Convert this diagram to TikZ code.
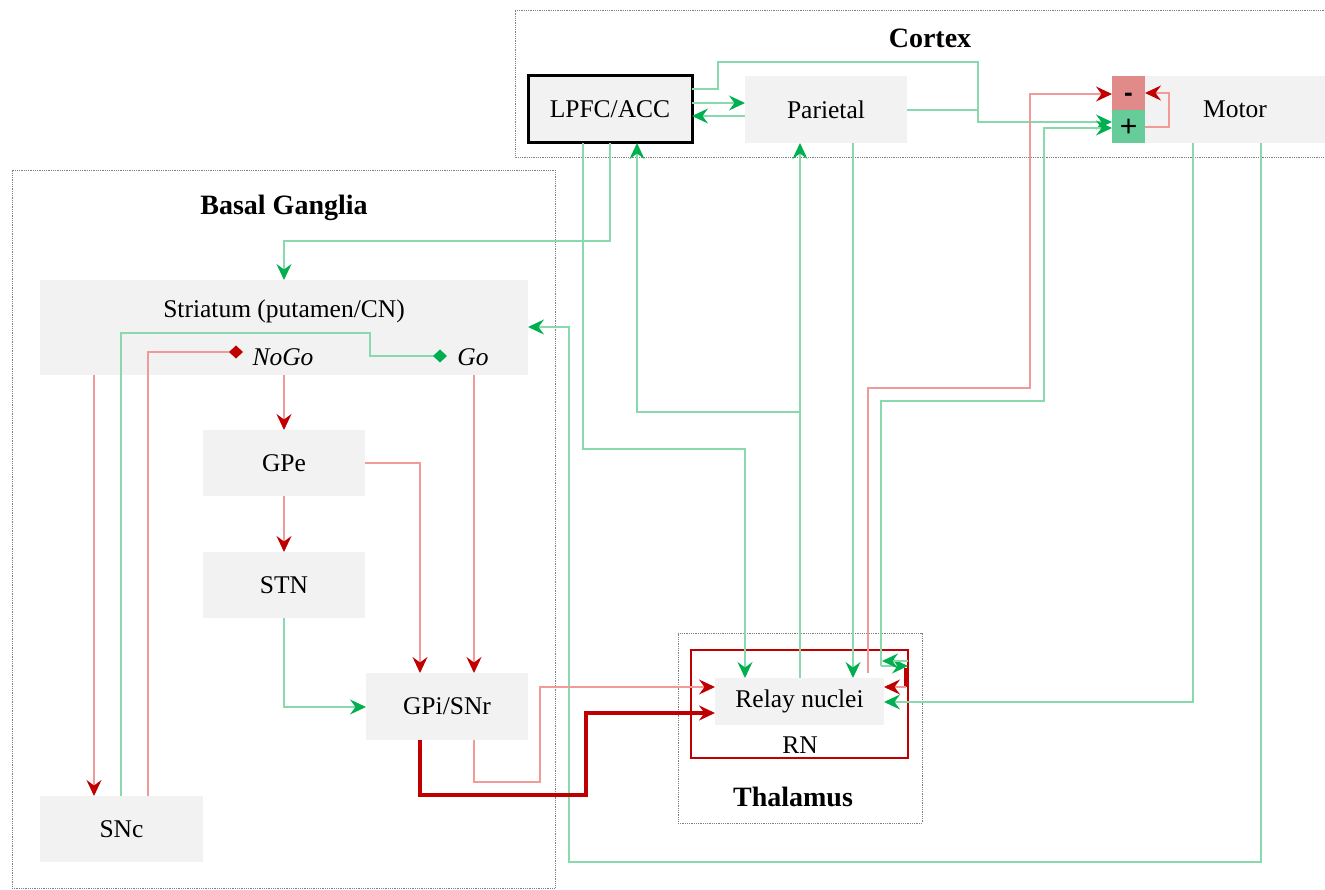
\documentclass[tikz,border=0pt]{standalone}
\usepackage{fontspec}
\setmainfont{Liberation Serif}
\newfontfamily\sansf{Liberation Sans}
\usetikzlibrary{arrows.meta}
\definecolor{boxgray}{HTML}{F2F2F2}
\definecolor{gline}{HTML}{88D9AC}
\definecolor{gtip}{HTML}{00B050}
\definecolor{rline}{HTML}{F29A9A}
\definecolor{rtip}{HTML}{C00000}
\definecolor{minusc}{HTML}{E08A8A}
\definecolor{plusc}{HTML}{66CC99}
\begin{document}
\begin{tikzpicture}[x=1pt,y=-1pt,
  box/.style={fill=boxgray, draw=none, inner sep=0pt, outer sep=0pt, font=\fontsize{25.5}{30}\selectfont},
  lbl/.style={inner sep=0pt, outer sep=0pt, font=\fontsize{25.5}{30}\selectfont},
  ttl/.style={inner sep=0pt, font=\fontsize{28}{32}\selectfont\bfseries},
  region/.style={draw=gray, densely dotted, line width=0.8pt, inner sep=0pt, outer sep=0pt},
  gar/.style={draw=gline, line width=1.3pt, -{Stealth[length=16pt,width=15pt,inset=5.5pt,color=gtip]}},
  gln/.style={draw=gline, line width=1.3pt},
  rar/.style={draw=rline, line width=1.3pt, -{Stealth[length=16pt,width=15pt,inset=5.5pt,color=rtip]}},
  rthick/.style={draw=rtip, line width=3.5pt, -{Stealth[length=16pt,width=15pt,inset=5.5pt]}},
  gdia/.style={draw=gline, line width=1.3pt, -{Diamond[length=14pt,width=13pt,color=gtip]}},
  rdia/.style={draw=rline, line width=1.3pt, -{Diamond[length=14pt,width=13pt,color=rtip]}},
]
\useasboundingbox (0,0) rectangle (1325,890);
\fill[white] (0,0) rectangle (1325,890);

% regions
\draw[region] (1326,10) -- (515,10) -- (515,157) -- (1326,157);
\node[ttl] (cortexT) at (930,38) {Cortex};
\node[region, minimum width=543pt, minimum height=718pt] (bg) at (283.5,529) {};
\node[ttl] (bgT) at (284,208) {Basal Ganglia};
\node[region, minimum width=244pt, minimum height=190pt] (thal) at (800,728) {};
\node[ttl] (thalT) at (793,797) {Thalamus};

% cortex boxes
\node[box, minimum width=164pt, minimum height=67pt, draw=black, line width=3pt] (lpfc) at (610,109.5) {LPFC/ACC};
\node[box, minimum width=162pt, minimum height=67pt] (parietal) at (826,109.5) {Parietal};
\node[box, minimum width=180pt, minimum height=67pt] (motor) at (1235,109.5) {Motor};
\node[box, fill=minusc, minimum width=33pt, minimum height=34pt] (minus) at (1128.5,93) {};
\node[inner sep=0pt, font=\sansf\bfseries\fontsize{26}{30}\selectfont] (minusT) at (1128.5,97) {-};
\node[box, fill=plusc, minimum width=33pt, minimum height=33pt] (plus) at (1128.5,126.5) {};
\node[inner sep=0pt, font=\sansf\fontsize{30}{30}\selectfont] (plusT) at (1128.5,128) {+};

% basal ganglia boxes
\node[box, minimum width=488pt, minimum height=95pt] (striatum) at (284,327.5) {};
\node[lbl] (striT) at (284,311) {Striatum (putamen/CN)};
\node[lbl, font=\fontsize{25.5}{30}\selectfont\itshape] (nogo) at (283,357) {NoGo};
\node[lbl, font=\fontsize{25.5}{30}\selectfont\itshape] (go) at (473,357) {Go};
\node[box, minimum width=162pt, minimum height=66pt] (gpe) at (284,463) {GPe};
\node[box, minimum width=162pt, minimum height=66pt] (stn) at (284,585) {STN};
\node[box, minimum width=162pt, minimum height=67pt] (gpi) at (447,706.5) {GPi/SNr};
\node[box, minimum width=163pt, minimum height=66pt] (snc) at (121.5,829) {SNc};

% thalamus
\node[draw=rtip, line width=2pt, inner sep=0pt, outer sep=0pt, minimum width=217pt, minimum height=108pt] (rn) at (799.5,704) {};
\node[box, minimum width=169pt, minimum height=47pt] (relay) at (799.5,701.5) {Relay nuclei};
\node[lbl] (rnT) at (800,745) {RN};

% cortex connectors
\draw[gar] (lpfc.east |- 0,103) -- (parietal.west |- 0,103);
\draw[gar] (parietal.west |- 0,116) -- (lpfc.east |- 0,116);
\draw[gar] (lpfc.east |- 0,89) -- (718,89) -- (718,62) -- (978,62) -- (978,122) -- (plus.west |- 0,122);
\draw[gln] (parietal.east |- 0,110) -- (978,110);
\draw[gar] (881,666) -- (881,401) -- (1044,401) -- (1044,128) -- (plus.west |- 0,128);
\draw[rar] (868,673) -- (868,388) -- (1030,388) -- (1030,94) -- (minus.west |- 0,94);
\draw[rar] (motor.west |- 0,127) -- (1169,127) -- (1169,93) -- (minus.east |- 0,93);

\draw[gar] (lpfc.south -| 610,0) -- (610,241) -- (284,241) -- (striatum.north);
\draw[gar] (lpfc.south -| 583,0) -- (583,449) -- (745,449) -- (relay.north -| 745,0);
\draw[gar] (relay.north -| 800,0) -- (parietal.south -| 800,0);
\draw[gar] (800,412) -- (637,412) -- (lpfc.south -| 637,0);
\draw[gar] (parietal.south -| 853,0) -- (relay.north -| 853,0);
\draw[gar] (motor.south -| 1193,0) -- (1193,702) -- (relay.east |- 0,702);
\draw[gar] (motor.south -| 1261,0) -- (1261,862) -- (569,862) -- (569,327) -- (striatum.east |- 0,327);

% small loops at RN
\draw[gar] (881,666) -- (rn.east |- 0,666);
\draw[gar] (rn.east |- 0,661) -- (882,661);
\draw[draw=rtip, line width=3.5pt] (906,668) -- (906,687);
\draw[rar] (906,687) -- (relay.east |- 0,687);

% basal ganglia connectors
\draw[rar] (striatum.south -| 94,0) -- (snc.north -| 94,0);
\draw[rar] (striatum.south) -- (gpe.north);
\draw[rar] (striatum.south -| 474,0) -- (gpi.north -| 474,0);
\draw[gdia] (snc.north -| 121,0) -- (121,333) -- (370,333) -- (370,356) -- (447,356);
\draw[rdia] (snc.north -| 148,0) -- (148,352) -- (243,352);
\draw[rar] (gpe.south) -- (stn.north);
\draw[rar] (gpe.east) -- (420,463) -- (gpi.north -| 420,0);
\draw[gar] (stn.south) -- (284,707) -- (gpi.west |- 0,707);
\draw[rar] (gpi.south -| 474,0) -- (474,782) -- (540,782) -- (540,687) -- (relay.west |- 0,687);
\draw[rthick] (gpi.south -| 420,0) -- (420,795) -- (586,795) -- (586,713) -- (relay.west |- 0,713);
\end{tikzpicture}
\end{document}
